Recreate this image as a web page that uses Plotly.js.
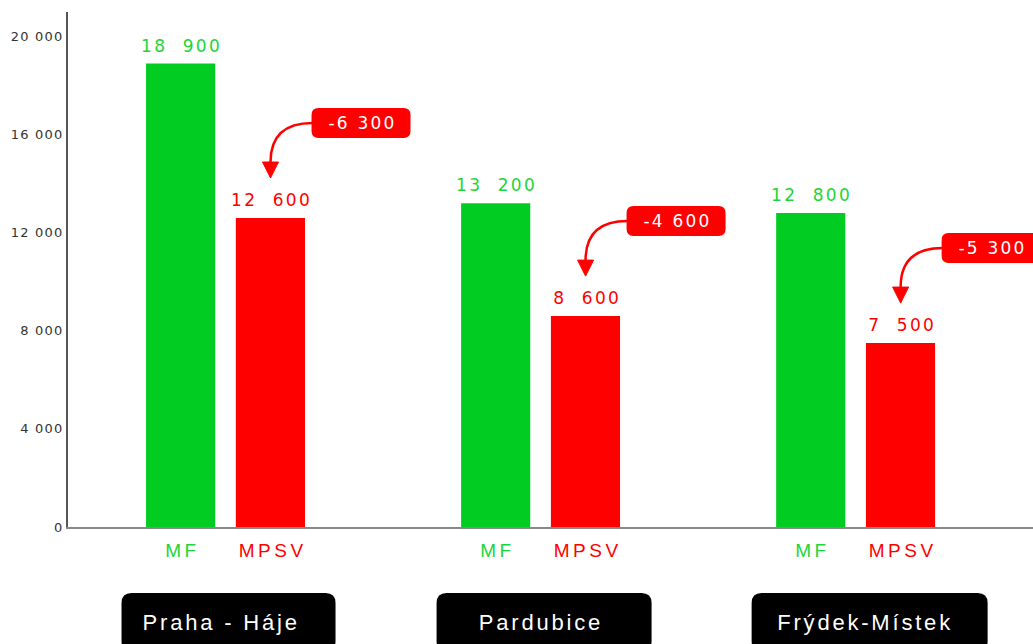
<!DOCTYPE html>
<html>
<head>
<meta charset="utf-8">
<script src="https://cdn.plot.ly/plotly-3.0.1.min.js"></script>
<style>
html,body{margin:0;padding:0;background:#fff;}
#chart{width:1033px;height:644px;}
.ytick text{letter-spacing:1.2px;}
</style>
</head>
<body>
<div id="chart"></div>
<script>
// ---- data ----
const categories = ["Praha - Háje", "Pardubice", "Frýdek-Místek"];
const seriesNames = ["MF", "MPSV"];
const mfValues = [18900, 13200, 12800];
const mpsvValues = [12600, 8600, 7500];
const yTickValues = [0, 4000, 8000, 12000, 16000, 20000];

// ---- styles ----
const GREEN = "#00cc22";
const GREEN_TXT = "#1ed43a";
const RED = "#ff0000";
const fmt = (v, sep) => {
  const s = Math.abs(v).toString().replace(/\B(?=(\d{3})+(?!\d))/g, sep || " ");
  return (v < 0 ? "-" : "") + s;
};

const traces = [
  {
    type: "bar", name: seriesNames[0], x: categories, y: mfValues,
    marker: {color: GREEN}, hoverinfo: "none"
  },
  {
    type: "bar", name: seriesNames[1], x: categories, y: mpsvValues,
    marker: {color: RED}, hoverinfo: "none"
  }
];

function roundRect(x0, y0, x1, y1, r) {
  return `M ${x0 + r},${y0} L ${x1 - r},${y0} Q ${x1},${y0} ${x1},${y0 + r} ` +
         `L ${x1},${y1 - r} Q ${x1},${y1} ${x1 - r},${y1} L ${x0 + r},${y1} ` +
         `Q ${x0},${y1} ${x0},${y1 - r} L ${x0},${y0 + r} Q ${x0},${y0} ${x0 + r},${y0} Z`;
}

const shapes = [];
const annotations = [];
const annSpacing = [];
function addAnn(a, spacing) { annotations.push(a); annSpacing.push(spacing); }

const BAR_OFF = 45; // pixel offset of bar centre from group centre
const boxExtents = [[-104, 110], [-104, 111], [-104, 132]];
const boxTextShift = [-6, -1, 8];
const valueFont = {family: "DejaVu Sans", size: 17};

categories.forEach((c, i) => {
  const diff = mpsvValues[i] - mfValues[i];
  // value labels
  addAnn({
    x: c, y: mfValues[i], xref: "x", yref: "y", xshift: -BAR_OFF, yshift: 6,
    showarrow: false, text: fmt(mfValues[i], "\u00a0\u00a0"),
    font: Object.assign({color: GREEN_TXT}, valueFont),
    xanchor: "center", yanchor: "bottom"
  }, 2.3);
  addAnn({
    x: c, y: mpsvValues[i], xref: "x", yref: "y", xshift: BAR_OFF, yshift: 6,
    showarrow: false, text: fmt(mpsvValues[i], "\u00a0\u00a0"),
    font: Object.assign({color: RED}, valueFont),
    xanchor: "center", yanchor: "bottom"
  }, 2.3);
  // red difference box
  shapes.push({
    type: "path", xref: "x", yref: "y", xsizemode: "pixel", ysizemode: "pixel",
    xanchor: c, yanchor: mpsvValues[i],
    path: roundRect(BAR_OFF + 41, 80, BAR_OFF + 140, 110, 7),
    fillcolor: RED, line: {width: 0}
  });
  // curved arrow
  shapes.push({
    type: "path", xref: "x", yref: "y", xsizemode: "pixel", ysizemode: "pixel",
    xanchor: c, yanchor: mpsvValues[i],
    path: `M ${BAR_OFF + 42},95 Q ${BAR_OFF},95 ${BAR_OFF},56`,
    line: {color: RED, width: 2.5}
  });
  shapes.push({
    type: "path", xref: "x", yref: "y", xsizemode: "pixel", ysizemode: "pixel",
    xanchor: c, yanchor: mpsvValues[i],
    path: `M ${BAR_OFF - 8},56 L ${BAR_OFF + 8},56 L ${BAR_OFF},40 Z`,
    fillcolor: RED, line: {color: RED, width: 1}
  });
  addAnn({
    x: c, y: mpsvValues[i], xref: "x", yref: "y",
    xshift: BAR_OFF + 91, yshift: 95, showarrow: false,
    text: fmt(diff), font: {family: "DejaVu Sans", size: 17, color: "#ffffff"},
    xanchor: "center", yanchor: "middle"
  }, 2.2);
  // series labels under bars
  addAnn({
    x: c, y: -0.045, xref: "x", yref: "paper", xshift: -BAR_OFF,
    showarrow: false, text: seriesNames[0],
    font: {family: "Liberation Sans", size: 19, color: GREEN_TXT},
    xanchor: "center", yanchor: "middle"
  }, 3.5);
  addAnn({
    x: c, y: -0.045, xref: "x", yref: "paper", xshift: BAR_OFF,
    showarrow: false, text: seriesNames[1],
    font: {family: "Liberation Sans", size: 19, color: RED},
    xanchor: "center", yanchor: "middle"
  }, 3.5);
  // black category boxes
  shapes.push({
    type: "path", xref: "x", yref: "paper", xsizemode: "pixel", ysizemode: "pixel",
    xanchor: c, yanchor: -0.1845,
    path: roundRect(boxExtents[i][0], -29, boxExtents[i][1], 29, 10),
    fillcolor: "#000000", line: {width: 0}
  });
  addAnn({
    x: c, y: -0.1845, xref: "x", yref: "paper", xshift: boxTextShift[i],
    showarrow: false, text: c,
    font: {family: "Liberation Sans", size: 22, color: "#ffffff"},
    xanchor: "center", yanchor: "middle"
  }, 2.8);
});

const layout = {
  width: 1033, height: 644,
  margin: {l: 68, r: 0, t: 12, b: 117, pad: 0},
  paper_bgcolor: "#ffffff", plot_bgcolor: "#ffffff",
  showlegend: false,
  barmode: "group", bargap: 0.43, bargroupgap: 0.23,
  xaxis: {
    type: "category", range: [-0.5, 2.563], showticklabels: false,
    showgrid: false, zeroline: false, ticks: "",
    showline: true, linecolor: "#888888", linewidth: 1.5
  },
  yaxis: {
    range: [0, 21000], tickvals: yTickValues, ticktext: yTickValues.map(v => fmt(v)),
    showgrid: false, zeroline: false, ticks: "",
    showline: true, linecolor: "#555555", linewidth: 2,
    tickfont: {family: "DejaVu Sans", size: 13, color: "#333333"}
  },
  shapes: shapes,
  annotations: annotations
};

Plotly.newPlot("chart", traces, layout, {displayModeBar: false, staticPlot: true}).then(() => {
  document.querySelectorAll("#chart g.annotation").forEach(g => {
    const idx = +g.getAttribute("data-index");
    const t = g.querySelector("text.annotation-text");
    if (t && annSpacing[idx] != null) {
      t.style.letterSpacing = annSpacing[idx] + "px";
      // compensate trailing spacing so text stays centred
      const tr = t.getAttribute("transform") || "";
      t.setAttribute("transform", (tr + " translate(" + (annSpacing[idx] / 2) + ",0)").trim());
    }
  });
});
</script>
</body>
</html>
